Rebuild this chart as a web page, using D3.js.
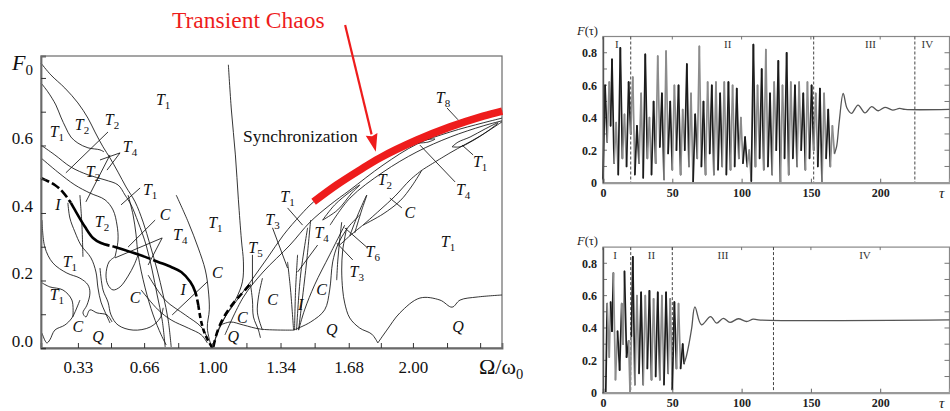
<!DOCTYPE html>
<html><head><meta charset="utf-8">
<script src="https://cdn.jsdelivr.net/npm/d3@7"></script>
<style>body{margin:0;background:#fff}svg{display:block}</style>
</head><body>
<svg id="fig" width="950" height="411"></svg>
<script>
// ===== Bifurcation diagram (F0 vs Ω/ω0) =====
const xTickValues = [0.33, 0.66, 1.00, 1.34, 1.68, 2.00];
const xTickLabels = ["0.33", "0.66", "1.00", "1.34", "1.68", "2.00"];
const xMinorTicks = [0.495, 0.83, 1.17, 1.51, 1.84, 2.17, 2.335];
const yTickValues = [0, 0.1, 0.2, 0.3, 0.4, 0.5, 0.6, 0.7, 0.8];
const yTickLabels = ["0.0", "", "0.2", "", "0.4", "", "0.6", "", ""];

// regime boundaries, left part of the diagram
const leftBoundaries = [
  [[.146,.844],[.195,.809],[.265,.770],[.330,.726],[.380,.681],[.415,.640],[.455,.596],[.490,.563],[.530,.521],[.570,.477],[.615,.433],[.655,.373],[.690,.305],[.725,.231],[.755,.157],[.780,.083],[.795,.003]],
  [[.146,.785],[.180,.759],[.220,.720],[.245,.684],[.270,.652],[.295,.625],[.330,.607],[.380,.593],[.440,.587],[.460,.581]],
  [[.146,.601],[.215,.572],[.295,.536],[.380,.513],[.465,.498],[.530,.483],[.565,.453],[.595,.424],[.630,.373],[.670,.305],[.700,.231],[.725,.157],[.750,.083],[.765,.003]],
  [[.146,.563],[.230,.521],[.315,.483],[.390,.459],[.465,.439],[.505,.409],[.525,.364],[.530,.320],[.515,.270]],
  [[.515,.270],[.485,.255],[.470,.216],[.480,.187],[.505,.172],[.540,.181],[.580,.213],[.610,.246],[.630,.276]],
  [[.580,.453],[.605,.394],[.620,.335],[.630,.276],[.665,.178],[.705,.098],[.745,.039],[.770,.009]],
  [[.820,.453],[.880,.373],[.930,.296],[.965,.231],[.980,.172],[.985,.113],[.975,.059],[.995,.004]],
  [[.645,.172],[.730,.113],[.795,.083],[.880,.059],[.945,.039],[.975,.015]],
  [[.680,.216],[.765,.142],[.865,.098],[.945,.062],[.980,.024]],
  [[.440,.237],[.455,.172],[.480,.136],[.495,.098],[.530,.068],[.605,.053],[.690,.062],[.740,.089],[.755,.119]],
  [[.151,.379],[.165,.299],[.205,.252],[.275,.222],[.340,.207],[.380,.187],[.390,.163],[.375,.127],[.355,.104],[.370,.092],[.390,.113],[.425,.104],[.475,.098],[.500,.077]],
  [[.151,.193],[.190,.181],[.255,.172],[.300,.142],[.305,.092]],
  [[.151,.044],[.175,.015],[.190,.024],[.215,.053],[.265,.068],[.300,.089],[.330,.127],[.340,.142]],
  [[.280,.430],[.290,.385],[.315,.344],[.345,.305],[.395,.267],[.420,.225],[.430,.178],[.445,.136],[.465,.107],[.490,.074]],
  [[.340,.453],[.350,.364],[.355,.270]]
];

// regime boundaries, right part of the diagram
const rightBoundaries = [
  [[1.080,.839],[1.095,.705],[1.115,.572],[1.130,.439],[1.145,.320],[1.155,.255],[1.150,.196],[1.120,.148],[1.070,.098],[1.025,.044],[1.005,.009]],
  [[1.005,.003],[1.040,.068],[1.105,.127],[1.190,.196],[1.275,.267],[1.355,.335],[1.440,.394],[1.505,.433],[1.620,.483],[1.735,.527],[1.835,.563],[2.020,.616],[2.185,.655],[2.350,.687],[2.445,.702]],
  [[1.063,.039],[1.155,.151],[1.253,.225],[1.387,.305],[1.487,.373],[1.587,.424],[1.686,.468],[1.851,.542],[2.020,.604],[2.186,.640],[2.350,.667],[2.444,.681]],
  [[1.587,.364],[1.686,.444],[1.851,.521],[2.020,.581],[2.186,.625],[2.350,.658],[2.444,.673]],
  [[1.751,.364],[1.836,.409],[1.911,.450],[1.986,.498],[2.045,.527]],
  [[1.751,.364],[1.851,.397],[1.936,.436],[1.995,.480],[2.045,.527]],
  [[2.045,.527],[2.185,.578],[2.335,.628],[2.444,.670]],
  [[1.751,.364],[1.685,.332],[1.635,.305]],
  [[2.195,.596],[2.225,.610],[2.285,.625],[2.360,.649],[2.424,.667],[2.374,.643],[2.295,.613],[2.235,.596],[2.195,.596]],
  [[2.025,.607],[2.060,.616],[2.110,.619],[2.075,.610],[2.025,.607]],
  [[1.550,.379],[1.610,.424],[1.685,.462],[1.735,.483],[1.695,.459],[1.625,.409],[1.550,.379]],
  [[1.190,.190],[1.200,.142],[1.205,.092],[1.230,.053],[1.240,.030]],
  [[1.250,.207],[1.230,.151],[1.225,.104],[1.250,.053]],
  [[1.040,.068],[1.090,.077],[1.155,.068],[1.240,.056],[1.405,.053]],
  [[1.375,.255],[1.390,.172],[1.405,.053]],
  [[1.425,.276],[1.415,.172],[1.410,.053]],
  [[1.475,.356],[1.440,.216],[1.420,.053]],
  [[1.490,.379],[1.470,.255],[1.430,.053]],
  [[1.660,.364],[1.585,.276],[1.510,.187],[1.460,.113],[1.430,.053]],
  [[1.405,.053],[1.490,.077],[1.560,.113],[1.585,.172],[1.600,.255],[1.625,.305],[1.675,.356],[1.735,.394]],
  [[1.645,.373],[1.635,.320],[1.625,.255],[1.620,.201]],
  [[1.670,.356],[1.650,.290],[1.645,.231],[1.650,.172],[1.660,.133],[1.685,.089],[1.735,.059],[1.795,.041],[1.825,.015]],
  [[1.685,.332],[1.725,.394],[1.770,.453],[1.745,.409],[1.710,.341]],
  [[1.825,.015],[1.870,.053],[1.935,.104],[2.035,.148],[2.135,.142],[2.195,.121],[2.235,.142],[2.320,.151],[2.444,.157]]
];

// heavy boundary of the intermittency region
const heavyLeft = [[.146,.504],[.215,.483],[.255,.462],[.295,.430]];
const heavyMid = [[.295,.430],[.315,.409],[.365,.359],[.405,.326],[.445,.311],[.515,.299],[.595,.284],[.665,.270],[.730,.255],[.795,.240],[.845,.225],[.890,.196],[.915,.166],[.930,.127]];
const heavyLow = [[.930,.127],[.945,.077],[.965,.039],[1.000,.000]];
const heavyRight = [[1.005,.003],[1.020,.039],[1.040,.071],[1.070,.104],[1.105,.133],[1.145,.160],[1.190,.190]];

// transient chaos boundary
const chaosBand = [[1.505,.433],[1.620,.483],[1.735,.527],[1.835,.563],[2.020,.616],[2.185,.655],[2.350,.687],[2.445,.702]];
const chaosArrow = [[1.662,.957],[1.815,.581]];

// label leader lines
const leaderLines = [
  [[.480,.640],[.270,.519]], [[.540,.578],[.440,.557]], [[.540,.578],[.475,.527]],
  [[.490,.572],[.370,.433]], [[.640,.474],[.545,.424]], [[.715,.379],[.580,.299]],
  [[.750,.326],[.515,.267]], [[.750,.326],[.680,.246]], [[.975,.196],[.800,.098]],
  [[1.200,.276],[1.200,.187]], [[1.375,.415],[1.450,.364]], [[1.300,.356],[1.375,.237]],
  [[1.525,.305],[1.425,.225]], [[1.775,.296],[1.660,.356]], [[1.700,.261],[1.620,.311]],
  [[1.945,.415],[1.885,.444]], [[2.210,.492],[2.035,.601]], [[2.300,.572],[2.245,.601]],
  [[2.170,.711],[2.225,.676]]
];

// regime labels: [letter, subscript, Ω/ω0, F0]
const regimeLabels = [
  ["T","1",.755,.735],["T","1",.225,.640],["T","2",.350,.661],["T","2",.500,.676],
  ["T","4",.590,.596],["T","2",.405,.521],["T","1",.690,.468],["I","",.230,.424],
  ["T","2",.450,.373],["C","",.765,.394],["T","4",.840,.335],["T","1",1.015,.370],
  ["T","1",.290,.255],["C","",1.025,.222],["I","",.855,.172],["T","1",.225,.157],
  ["C","",.615,.148],["C","",.330,.062],["Q","",.430,.033],["T","5",1.215,.296],
  ["C","",1.150,.089],["Q","",1.105,.033],["T","1",1.375,.447],["T","3",1.300,.379],
  ["T","4",1.545,.341],["C","",1.300,.142],["I","",1.440,.127],["C","",1.545,.172],
  ["Q","",1.595,.053],["T","6",1.800,.284],["T","3",1.720,.225],["T","1",2.175,.314],
  ["Q","",2.225,.062],["C","",1.985,.400],["T","4",2.250,.468],["T","1",2.335,.551],
  ["T","2",1.860,.498],["T","8",2.150,.741]
];

// ===== Time series F(τ) =====
const tauTicks = [0, 50, 100, 150, 200];
const fTicks = [0, 0.2, 0.4, 0.6, 0.8];

const topChaotic = [[0,0.02],[1.5,0.6],[3,0.25],[4.5,0.62],[5.5,0.35],[6.5,0.76],[8,0.12],[9.5,0.37],[11,0.05],[12.5,0.83],[14,0.15],[15.5,0.42],[17,0.1],[18.5,0.62],[20,0.3],[21.5,0.65],[23,0.05],[24.5,0.35],[26,0.12],[27.5,0.55],[29,0.03],[30.5,0.79],[32,0.15],[33.5,0.4],[35,0.05],[36.5,0.5],[38,0.12],[39.5,0.78],[41,0.22],[42.5,0.55],[44,0.02],[45.5,0.81],[47,0.18],[48.5,0.5],[50,0.08],[51.5,0.6],[53,0.2],[54.5,0.6],[56,0.05],[57.5,0.45],[59,0.2],[60.5,0.73],[62,0.1],[63.5,0.55],[65,0.0],[66.5,0.42],[68,0.15],[69.5,0.84],[71,0.1],[72.5,0.5],[74,0.05],[75.5,0.62],[77,0.18],[78.5,0.6],[80,0.05],[81.5,0.62],[83,0.08],[84.5,0.55],[86,0.1],[87.5,0.62],[89,0.05],[90.5,0.62],[92,0.08],[93.5,0.6],[95,0.1],[96.5,0.58],[98,0.15],[99.5,0.4],[101,0.12],[102.5,0.28],[104,0.1],[105.5,0.2],[107,0.01],[108.5,0.85],[110,0.1],[111.5,0.6],[113,0.15],[114.5,0.7],[116,0.08],[117.5,0.82],[119,0.1],[120.5,0.55],[122,0.05],[123.5,0.62],[125,0.2],[126.5,0.75],[128,0.0],[129.5,0.6],[131,0.15],[132.5,0.8],[134,0.05],[135.5,0.62],[137,0.15],[138.5,0.6],[140,0.1],[141.5,0.62],[143,0.2],[144.5,0.55],[146,0.08],[147.5,0.62],[149,0.15],[150.5,0.6],[152,0.2],[153.5,0.55],[155,0.1],[156.5,0.58],[158,0.0],[159.5,0.55],[161,0.15],[162.5,0.45],[164,0.1],[165.5,0.35],[167,0.18]];
const topSettling = [[167,0.18],[168.5,0.22],[170.5,0.38],[173.3,0.55],[176,0.46],[179.3,0.427],[184,0.478],[189,0.43],[193.8,0.468],[198.6,0.443],[203.4,0.464],[209,0.447],[214,0.457],[218,0.451],[250,0.451]];
const topPhaseBounds = [20, 152, 225];
const topPhaseNames = [["I",10],["II",90],["III",193],["IV",234]];

const bottomChaotic = [[0,0.0],[2,0.0],[3,0.55],[4.5,0.22],[5.5,0.56],[6.5,0.38],[7.5,0.74],[9,0.08],[10.5,0.38],[12,0.14],[13.5,0.55],[14.5,0.3],[15.5,0.75],[17,0.22],[18.5,0.32],[19.5,0.0],[20.5,0.35],[21.5,0.84],[23,0.05],[24.5,0.6],[26,0.12],[27.5,0.62],[29,0.05],[30.5,0.6],[32,0.15],[33.5,0.63],[35,0.08],[36.5,0.58],[38,0.1],[39.5,0.62],[41,0.08],[42.5,0.6],[44,0.05],[45.5,0.62],[47,0.12],[48.5,0.58],[50,0.02],[51.5,0.56],[53,0.15],[54.5,0.55],[56,0.15],[57.5,0.3],[58.5,0.18]];
const bottomSettling = [[58.5,0.18],[60,0.22],[62,0.3],[64,0.4],[66.3,0.53],[71,0.42],[77.6,0.47],[82,0.43],[86.8,0.46],[91.6,0.435],[97.6,0.457],[103.6,0.44],[108.4,0.455],[112,0.45],[250,0.45]];
const bottomPhaseBounds = [20, 50, 123];
const bottomPhaseNames = [["I",8.7],["II",35],["III",86.6],["IV",189]];

// ---------------------------------------------------------------
const svg = d3.select("#fig");
const SERIF = "'Liberation Serif', 'DejaVu Serif', serif";
const INK = "#111";

const xL = d3.scaleLinear().domain([0.146, 2.444]).range([41, 502]);
const yL = d3.scaleLinear().domain([0, 0.865]).range([348, 56]);
const smooth = d3.line().x(d => xL(d[0])).y(d => yL(d[1])).curve(d3.curveCatmullRom);
const straight = d3.line().x(d => xL(d[0])).y(d => yL(d[1]));

const left = svg.append("g");

// frame
left.append("rect").attr("x", 41).attr("y", 56).attr("width", 461).attr("height", 292)
  .attr("fill", "none").attr("stroke", "#6a6a6a").attr("stroke-width", 1.2);

// boundaries
const bnd = left.append("g").attr("fill", "none").attr("stroke", INK).attr("stroke-width", 0.85)
  .attr("stroke-linejoin", "round");
leftBoundaries.concat(rightBoundaries).forEach(c => bnd.append("path").attr("d", smooth(c)));
leaderLines.forEach(c => bnd.append("path").attr("d", straight(c)));

// heavy boundary
const heavy = left.append("g").attr("fill", "none").attr("stroke", "#000").attr("stroke-width", 2.6);
heavy.append("path").attr("d", smooth(heavyLeft)).attr("stroke-dasharray", "9,3");
heavy.append("path").attr("d", smooth(heavyMid)).attr("stroke-dasharray", "60,3,40,3");
heavy.append("path").attr("d", smooth(heavyLow)).attr("stroke-dasharray", "5,3");
heavy.append("path").attr("d", smooth(heavyRight)).attr("stroke-dasharray", "7,4");

// transient chaos band and arrow
const RED = "#ee1c1c";
left.append("path").attr("d", smooth(chaosBand)).attr("fill", "none")
  .attr("stroke", RED).attr("stroke-width", 7.5);
{
  const [a, b] = chaosArrow.map(p => [xL(p[0]), yL(p[1])]);
  const ang = Math.atan2(b[1] - a[1], b[0] - a[0]);
  const L = 18, W = 6;
  const base = [b[0] - L * Math.cos(ang), b[1] - L * Math.sin(ang)];
  left.append("line").attr("x1", a[0]).attr("y1", a[1]).attr("x2", base[0]).attr("y2", base[1])
    .attr("stroke", RED).attr("stroke-width", 2.2);
  const p1 = [base[0] + W * Math.sin(ang), base[1] - W * Math.cos(ang)];
  const p2 = [base[0] - W * Math.sin(ang), base[1] + W * Math.cos(ang)];
  left.append("path").attr("d", `M${b[0]},${b[1]}L${p1[0]},${p1[1]}L${base[0]+2*Math.cos(ang)},${base[1]+2*Math.sin(ang)}L${p2[0]},${p2[1]}Z`)
    .attr("fill", RED);
}
svg.append("text").attr("x", 172).attr("y", 28).attr("font-family", SERIF).attr("font-size", 23.5)
  .attr("fill", RED).text("Transient Chaos");

left.append("text").attr("x", xL(1.153)).attr("y", yL(0.611)).attr("font-family", SERIF)
  .attr("font-size", 17.5).attr("fill", INK).text("Synchronization");

// regime labels
regimeLabels.forEach(([m, s, x, y]) => {
  const t = left.append("text").attr("x", xL(x)).attr("y", yL(y)).attr("dy", "0.33em")
    .attr("text-anchor", "middle").attr("font-family", SERIF).attr("font-size", 16).attr("fill", INK);
  t.append("tspan").attr("font-style", "italic").text(m);
  if (s) t.append("tspan").attr("font-size", 11).attr("dy", 4).text(s);
});

// axes
const axB = left.append("g").attr("transform", "translate(0,348)")
  .call(d3.axisBottom(xL).tickValues(xTickValues.concat(xMinorTicks)).tickSize(-5).tickPadding(13)
    .tickFormat(d => { const i = xTickValues.indexOf(d); return i >= 0 ? xTickLabels[i] : ""; }));
const axLft = left.append("g").attr("transform", "translate(41,0)")
  .call(d3.axisLeft(yL).tickValues(yTickValues).tickSize(-5).tickPadding(8)
    .tickFormat((d, i) => yTickLabels[i]));
[axB, axLft].forEach(a => {
  a.attr("font-family", SERIF);
  a.select(".domain").attr("stroke", "#6a6a6a").attr("stroke-width", 1.8);
  a.selectAll(".tick line").attr("stroke", "#333").attr("stroke-width", 1);
  a.selectAll("text").attr("font-family", SERIF).attr("font-size", 17).attr("fill", INK);
});
axLft.selectAll("text").attr("dy", "-0.1em");

// axis titles
{
  const t = svg.append("text").attr("x", 12).attr("y", 70).attr("font-family", SERIF).attr("font-size", 22).attr("fill", INK);
  t.append("tspan").attr("font-style", "italic").text("F");
  t.append("tspan").attr("font-size", 15).attr("dy", 5).text("0");
  const u = svg.append("text").attr("x", 479).attr("y", 374).attr("font-family", SERIF).attr("font-size", 22).attr("fill", INK);
  u.append("tspan").text("Ω/ω");
  u.append("tspan").attr("font-size", 14.5).attr("dy", 5).text("0");
}

// ===== time series panels =====
const xR = d3.scaleLinear().domain([0, 250]).range([603, 949.5]);

function panel(yTop, yBottom, chaotic, settling, bounds, names) {
  const yR = d3.scaleLinear().domain([0, 0.9]).range([yBottom, yTop]);
  const g = svg.append("g");
  g.append("rect").attr("x", 603).attr("y", yTop).attr("width", 346.5).attr("height", yBottom - yTop)
    .attr("fill", "none").attr("stroke", "#888").attr("stroke-width", 1.2);

  // inward ticks on all sides
  const tk = g.append("g").attr("stroke", "#666").attr("stroke-width", 0.9);
  d3.range(0, 0.85, 0.1).forEach(v => {
    tk.append("line").attr("x1", 603).attr("x2", 607).attr("y1", yR(v)).attr("y2", yR(v));
    tk.append("line").attr("x1", 949.5).attr("x2", 944.5).attr("y1", yR(v)).attr("y2", yR(v));
  });
  tauTicks.forEach(v => {
    tk.append("line").attr("x1", xR(v)).attr("x2", xR(v)).attr("y1", yTop).attr("y2", yTop + 3);
  });

  // phase boundaries
  bounds.forEach(b => g.append("line").attr("x1", xR(b)).attr("x2", xR(b)).attr("y1", yTop).attr("y2", yBottom)
    .attr("stroke", "#444").attr("stroke-width", 1).attr("stroke-dasharray", "3,2"));
  names.forEach(([n, t]) => g.append("text").attr("x", xR(t)).attr("y", yR(0.85)).attr("dy", "0.35em")
    .attr("text-anchor", "middle").attr("font-family", SERIF).attr("font-size", 11).attr("fill", "#333").text(n));

  // signal: chaotic part as alternating dark / grey strokes
  for (let i = 0; i < chaotic.length - 1; i++) {
    const a = chaotic[i], b = chaotic[i + 1];
    g.append("line").attr("x1", xR(a[0])).attr("y1", yR(a[1])).attr("x2", xR(b[0])).attr("y2", yR(b[1]))
      .attr("stroke", Math.floor(i / 2) % 2 ? "#8c8c8c" : "#1c1c1c").attr("stroke-width", 1.7)
      .attr("stroke-linecap", "round");
  }
  g.append("path").attr("d", d3.line().x(d => xR(d[0])).y(d => yR(d[1])).curve(d3.curveCatmullRom)(settling))
    .attr("fill", "none").attr("stroke", "#555").attr("stroke-width", 1.3);

  // axes
  const ax = g.append("g").attr("transform", `translate(0,${yBottom})`)
    .call(d3.axisBottom(xR).tickValues(tauTicks).tickSize(-4).tickPadding(6));
  const ay = g.append("g").attr("transform", "translate(603,0)")
    .call(d3.axisLeft(yR).tickValues(fTicks).tickSize(0).tickPadding(6).tickFormat(d => d === 0 ? "0" : d3.format(".1f")(d)));
  ax.select(".domain").attr("stroke", "#999").attr("stroke-width", 2.2);
  ay.select(".domain").attr("stroke", "#555").attr("stroke-width", 1.4);
  [ax, ay].forEach(a => {
    a.attr("font-family", SERIF);
    a.selectAll(".tick line").attr("stroke", "#666");
    a.selectAll("text").attr("font-family", SERIF).attr("font-size", 12).attr("font-weight", "bold").attr("fill", "#222");
  });

  const f = svg.append("text").attr("x", 577).attr("y", yTop - 2).attr("font-family", SERIF).attr("font-size", 12.5).attr("fill", "#222");
  f.append("tspan").attr("font-style", "italic").text("F");
  f.append("tspan").text("(τ)");
  svg.append("text").attr("x", 939).attr("y", yBottom + 15).attr("font-family", SERIF).attr("font-size", 15)
    .attr("font-style", "italic").attr("fill", "#222").text("τ");
}

panel(36.5, 182.7, topChaotic, topSettling, topPhaseBounds, topPhaseNames);
panel(247.1, 392.7, bottomChaotic, bottomSettling, bottomPhaseBounds, bottomPhaseNames);
</script>
</body></html>
